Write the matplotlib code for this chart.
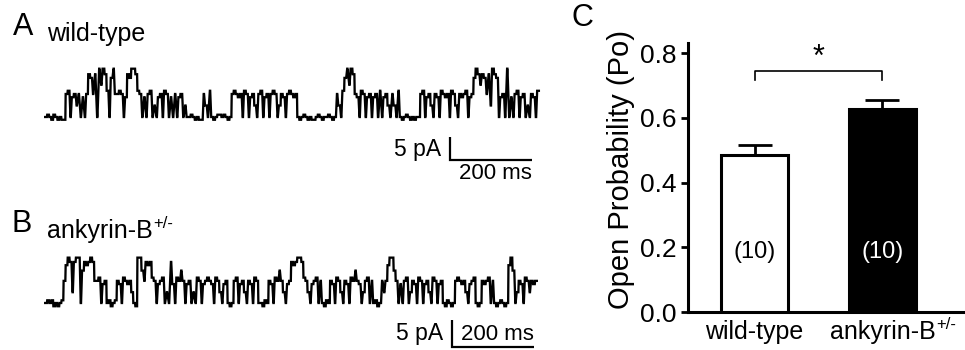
import numpy as np
import matplotlib
matplotlib.use("Agg")
import matplotlib.pyplot as plt

plt.rcParams['font.family'] = ['Liberation Sans', 'DejaVu Sans']

# ---------------- data ----------------
BIN_MS = 5.0  # duration of one state symbol (ms)

# state symbols read from the single-channel records (one symbol per 5 ms)
trace_A_states = (
    "0+0-+0-0--"
    "1b0a1h10a01"
    "2c1203m32b0c31"
    "1b10a"
    "2c332"
    "b"
    "10a01b0h0a10b10a010a10h"
    "00+0-0--"
    "1h0b"
    "0-0++0+0-0"
    "1b1a10b10a1h01b0a101b10h1a01b1a1"
    "0-0+0-0--0+0-00+0-0"
    "1h0b"
    "c3m32"
    "1a0b10a1"
    "0a10b0a1h0"
    "1h0"
    "b0-0+0-0-00"
    "1b0a1h01a0b1a10b1h01a1b0a1"
    "c32m2c12h32c"
    "0a1030a01b0a10h01a0b"
)
trace_B_states = (
    "0+0+-0-0+"
    "1c32h2330m2c2321"
    "1b0a1"
    "0+-0+"
    "1a0b1a1h"
    "0-"
    "33m12c2b"
    "10a1b0h02a0b1m10a10h0b10a1b"
    "1a0b1h0a1"
    "0-0"
    "1b0a1h01a0b10"
    "0-+0"
    "1a0b1m1h0a1"
    "2c2332b"
    "1h0a1b01"
    "0-+0"
    "1a0b1h01a0b1m1a0h1b01"
    "0+-0"
    "1h1"
    "c33m"
    "10a01b0h1a0b10a1h0b10a1"
    "0-+0-0"
    "1b1a"
    "1h0a1b"
    "0-0"
    "1a1b01"
    "0-0+0-0"
    "c3m"
    "0h"
    "1a0b1h1a1"
)
# current (pA) of each state symbol
levels_A = {'-': -0.6, '0': 0.0, '+': 0.5, 'h': 2.5, 'a': 4.3, '1': 5.0, 'b': 5.7,
            'm': 7.0, 'c': 8.5, '2': 9.3, '3': 10.5}
levels_B = {'-': -0.6, '0': 0.0, '+': 0.5, 'h': 2.0, 'a': 3.5, '1': 4.1, 'b': 4.7,
            'm': 6.0, 'c': 7.0, '2': 7.6, '3': 8.4}

scale_pA = 5
scale_ms = 200

categories = ['wild-type', 'ankyrin-B']
category_sup = ['', '+/-']
po_mean = [0.485, 0.627]
po_sem = [0.031, 0.028]
n_cells = ['(10)', '(10)']
yticks = [0.0, 0.2, 0.4, 0.6, 0.8]

# ---------------- figure ----------------
W, H = 965, 350
fig = plt.figure(figsize=(W / 100, H / 100), dpi=100)


def px_axes(x0, y0, x1, y1):
    return fig.add_axes([x0 / W, 1 - y1 / H, (x1 - x0) / W, (y1 - y0) / H])


def trace_xy(states, levels):
    """Each symbol is a short plateau; isolated brief events are drawn narrow."""
    vals = [levels[c] for c in states]
    xs, ys = [], []
    n = len(vals)
    for i, v in enumerate(vals):
        prev_v = vals[i - 1] if i > 0 else v
        next_v = vals[i + 1] if i < n - 1 else v
        brief = (abs(v - prev_v) > 1.5 and abs(v - next_v) > 1.5 and
                 (v - prev_v) * (v - next_v) > 0)
        half = 0.08 if brief else 0.42
        c = (i + 0.5) * BIN_MS
        xs += [c - half * BIN_MS, c + half * BIN_MS]
        ys += [v, v]
    return np.array(xs), np.array(ys)


def draw_trace(ax, states, levels, t0_px, base_px, px_per_ms, px_per_pA,
               region, bar_px):
    x0, y0, x1, y1 = region
    tx, ty = trace_xy(states, levels)
    ax.plot(tx, ty, color='black', lw=1.65, solid_joinstyle='miter')
    ax.set_xlim(-(t0_px - x0) / px_per_ms, (x1 - t0_px) / px_per_ms)
    ax.set_ylim(-(y1 - base_px) / px_per_pA, (base_px - y0) / px_per_pA)
    ax.axis('off')
    bx, by = bar_px
    tb = (bx - t0_px) / px_per_ms
    yb = -(by - base_px) / px_per_pA
    ax.plot([tb, tb, tb + scale_ms], [yb + scale_pA, yb, yb],
            color='black', lw=1.6, solid_capstyle='butt', solid_joinstyle='miter')
    return tb, yb


# Panel A trace
regA = (0, 40, 560, 182)
axA = px_axes(*regA)
tb, yb = draw_trace(axA, trace_A_states, levels_A, 45, 117, 0.41, 4.6, regA, (450, 160))
axA.text(tb - 22, yb + 0.45 * scale_pA, '5 pA', ha='right', va='center', fontsize=16.5)
axA.text(tb + scale_ms / 2 + 10, yb - 0.6, '200 ms', ha='center', va='top', fontsize=16)

# Panel B trace
regB = (0, 235, 560, 350)
axB = px_axes(*regB)
tb, yb = draw_trace(axB, trace_B_states, levels_B, 45, 303, 0.41, 5.4, regB, (452, 347))
axB.text(tb - 22, yb + 0.5 * scale_pA, '5 pA', ha='right', va='center', fontsize=16.5)
axB.text(tb + scale_ms / 2 + 10, yb + 0.45 * scale_pA, '200 ms', ha='center', va='center',
         fontsize=16)

# Panel labels
fig.text(23 / W, 1 - 27 / H, 'A', ha='center', va='center', fontsize=22)
fig.text(47 / W, 1 - 41 / H, 'wild-type', ha='left', va='baseline', fontsize=18)
fig.text(22 / W, 1 - 224 / H, 'B', ha='center', va='center', fontsize=22)
titleB = fig.text(47 / W, 1 - 238 / H, 'ankyrin-B', ha='left', va='baseline', fontsize=18)
fig.text(582 / W, 1 - 18 / H, 'C', ha='center', va='center', fontsize=22)

# Panel C bar chart
axC = px_axes(688, 43, 965, 312)
x = np.arange(len(categories))
axC.bar(x, po_mean, width=0.52, color=['white', 'black'], edgecolor='black',
        linewidth=2.2, zorder=3)
axC.errorbar(x, po_mean, yerr=[[0, 0], po_sem], fmt='none', ecolor='black',
             elinewidth=2.0, capsize=12, capthick=2.0, zorder=2)
for xi, lab, col in zip(x, n_cells, ['black', 'white']):
    axC.text(xi, 0.185, lab, ha='center', va='center', fontsize=17, color=col, zorder=4)

# significance bracket
yb1 = max(m + s for m, s in zip(po_mean, po_sem)) + 0.09
axC.plot([x[0], x[0], x[1], x[1]], [yb1 - 0.027, yb1, yb1, yb1 - 0.027],
         color='black', lw=1.2)
axC.text((x[0] + x[1]) / 2, yb1 - 0.005, '*', ha='center', va='bottom', fontsize=22)

axC.set_xlim(-0.52, 1.645)
axC.set_ylim(0, 0.831)
axC.set_yticks(yticks)
axC.set_yticklabels([f'{v:.1f}' for v in yticks])
axC.set_xticks(x)
axC.set_xticklabels(categories)
axC.tick_params(axis='y', direction='out', length=5, width=2.0, labelsize=19, pad=3)
axC.tick_params(axis='x', length=0, labelsize=18, pad=6)
axC.set_ylabel('Open Probability (Po)', fontsize=21)
axC.yaxis.set_label_coords(-0.19, 0.528)
for side in ['top', 'right']:
    axC.spines[side].set_visible(False)
for side in ['left', 'bottom']:
    axC.spines[side].set_linewidth(2.2)

# superscripts (+/-) after the genotype labels
fig.canvas.draw()
renderer = fig.canvas.get_renderer()


def add_sup(txt, sup, size=12):
    if not sup:
        return
    bb = txt.get_window_extent(renderer)
    fig.text(bb.x1 / fig.bbox.width + 1 / W, (bb.y1 + 3) / fig.bbox.height, sup,
             ha='left', va='top', fontsize=size)


for lab, sup in zip(axC.get_xticklabels(), category_sup):
    add_sup(lab, sup)
add_sup(titleB, '+/-')

fig.savefig('out.png', dpi=100)
